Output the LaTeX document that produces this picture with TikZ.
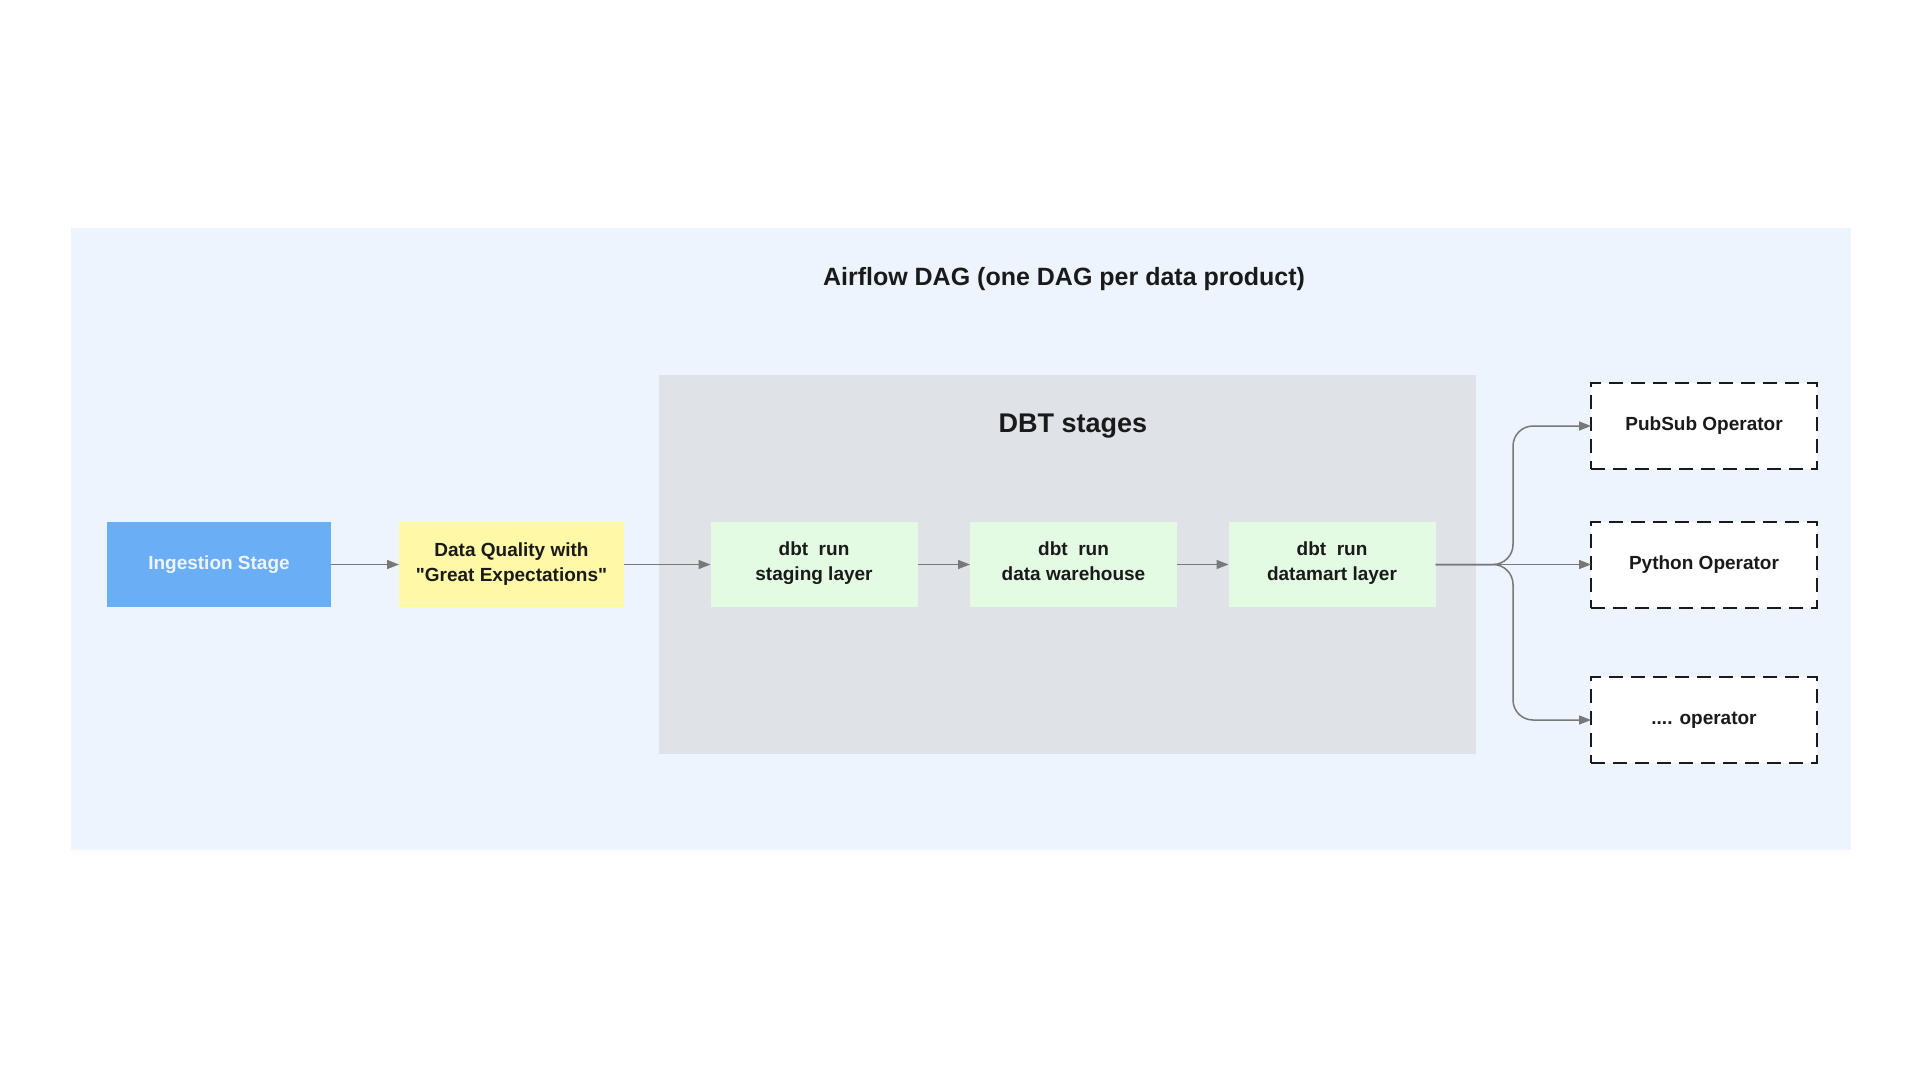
\documentclass[tikz,border=0pt]{standalone}
\usepackage{fontspec}
\setmainfont{Liberation Sans}[Ligatures=TeXOff]
\usetikzlibrary{arrows.meta}

\definecolor{dagbg}{RGB}{237,244,253}
\definecolor{dbtbg}{RGB}{223,227,232}
\definecolor{ingestblue}{RGB}{106,174,246}
\definecolor{dqyellow}{RGB}{255,248,166}
\definecolor{dbtgreen}{RGB}{227,250,227}
\definecolor{inkdark}{RGB}{26,26,26}
\definecolor{wiregrey}{RGB}{120,120,120}

\tikzset{
  stagebox/.style={inner sep=0pt,outer sep=0pt,minimum height=42.5pt,align=center,
    text=inkdark,font=\bfseries\fontsize{9.5}{12.5}\selectfont},
  dbtbox/.style={stagebox,fill=dbtgreen,minimum width=103.5pt,execute at end node={\strut}},
  opbox/.style={stagebox,fill=white,draw=inkdark,line width=1pt,dash pattern=on 7pt off 4pt,
    minimum width=113pt,minimum height=43pt},
  wire/.style={draw=wiregrey,line width=0.75pt,-{Triangle[length=6pt,width=4.5pt]}}
}

\begin{document}
\begin{tikzpicture}[x=.5pt,y=-.5pt]
\path[use as bounding box] (0,0) rectangle (1920,1080);
\path[fill=white] (0,0) rectangle (1920,1080);
% DAG frame
\path[fill=dagbg] (71,228) rectangle (1851,850);
\node[inner sep=0pt,text=inkdark,font=\bfseries\fontsize{12.5}{15}\selectfont] (dagtitle) at (1064,279) {Airflow DAG (one DAG per data product)};
% dbt group
\path[fill=dbtbg] (659,375) rectangle (1476,754);
\node[inner sep=0pt,text=inkdark,font=\bfseries\fontsize{13.5}{16}\selectfont] (dbttitle) at (1073,426) {DBT stages};
% stages
\node[stagebox,fill=ingestblue,minimum width=112pt,text={rgb,255:red,240;green,244;blue,250}] (ingest) at (219,564.5) {Ingestion Stage};
\node[stagebox,fill=dqyellow,minimum width=112.5pt] (dq) at (511.5,564.5) {Data Quality with\\"Great Expectations"};
\node[dbtbox] (staging) at (814,564.5) {dbt~~run\\staging layer};
\node[dbtbox] (warehouse) at (1073.5,564.5) {dbt~~run\\data warehouse};
\node[dbtbox] (datamart) at (1332,564.5) {dbt~~run\\datamart layer};
% operators
\node[opbox] (pubsub) at (1704,426) {PubSub Operator};
\node[opbox] (python) at (1704,564.5) {Python Operator};
\node[opbox] (otherop) at (1704,720) {.... operator};
\coordinate (fork) at (1513,564.5);
% connectors
\draw[wire] (ingest) -- (dq);
\draw[wire] (dq) -- (staging);
\draw[wire] (staging) -- (warehouse);
\draw[wire] (warehouse) -- (datamart);
\draw[wire] (datamart) -- (python);
\draw[wire,rounded corners=10pt] (datamart.east) -- (fork) |- (pubsub.west);
\draw[wire,rounded corners=10pt] (datamart.east) -- (fork) |- (otherop.west);
\end{tikzpicture}
\end{document}
